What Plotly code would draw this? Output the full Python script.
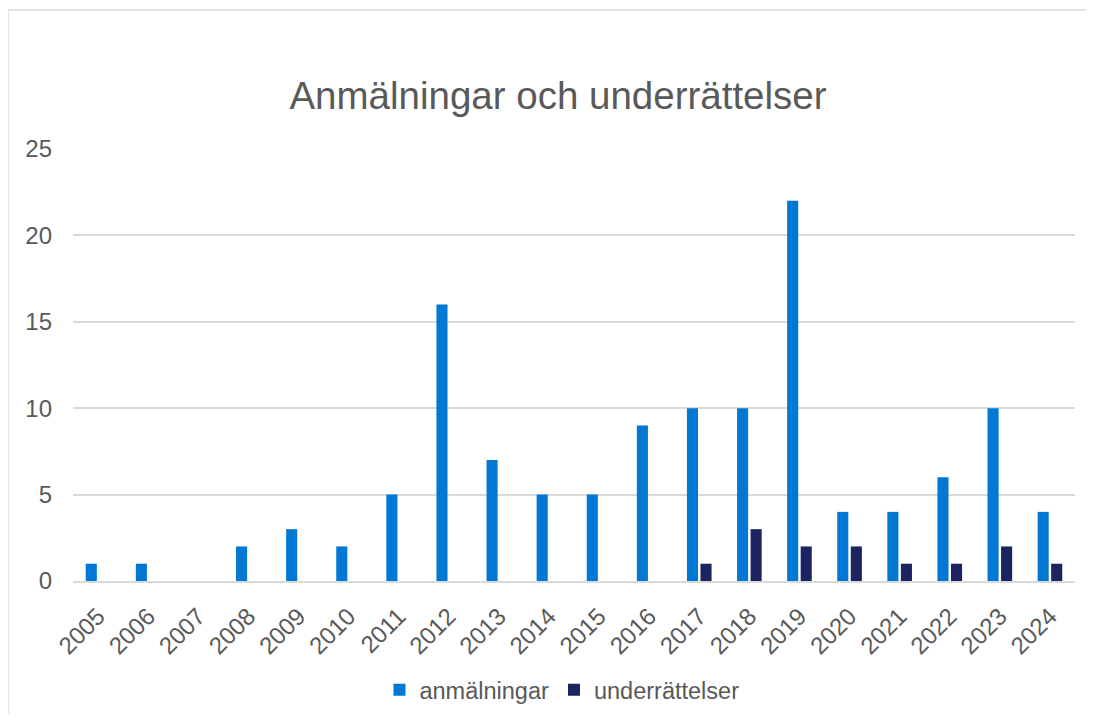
import plotly.graph_objects as go

years = [str(y) for y in range(2005, 2025)]
anmalningar = [1, 1, 0, 2, 3, 2, 5, 16, 7, 5, 5, 9, 10, 10, 22, 4, 4, 6, 10, 4]
underrattelser = [0, 0, 0, 0, 0, 0, 0, 0, 0, 0, 0, 0, 1, 3, 2, 2, 1, 1, 2, 1]
y_ticks = [0, 5, 10, 15, 20, 25]

FONT = "Liberation Sans, Arial, sans-serif"
GREY = "#595959"

W, H = 1078, 706

fig = go.Figure()
fig.add_trace(go.Bar(x=years, y=anmalningar, name="anmälningar", marker_color="#0078D4",
                     marker_line_width=0))
fig.add_trace(go.Bar(x=years, y=underrattelser, name="underrättelser", marker_color="#1B2460",
                     marker_line_width=0))

fig.update_layout(
    width=W, height=H,
    margin=dict(l=65, r=11, t=141, b=133, autoexpand=False),
    paper_bgcolor="white", plot_bgcolor="white",
    barmode="group", bargap=0.46, bargroupgap=0.18,
    font=dict(family=FONT, color=GREY, size=24),
    title=dict(text="Anmälningar och underrättelser", x=550 / W, xanchor="center",
               y=1 - 88 / H, yanchor="middle", xref="container", yref="container",
               font=dict(size=38.5, color=GREY, family=FONT)),
    legend=dict(orientation="h", x=0.488, xanchor="center", y=1 - 682 / H, yanchor="middle",
                yref="container",
                font=dict(size=23.5, color=GREY), itemwidth=30, traceorder="normal"),
    showlegend=True,
)
fig.update_xaxes(type="category", tickangle=-45, showline=True, linecolor="#d9d9d9", linewidth=1.5,
                 showgrid=False, ticks="", ticklabelstandoff=10, automargin=False,
                 tickfont=dict(size=24, color=GREY))
fig.update_yaxes(range=[0, 25], tickvals=y_ticks, showgrid=True, gridcolor="#d9d9d9", gridwidth=1.5,
                 zeroline=False, showline=False, ticks="", ticklabelstandoff=20, automargin=False,
                 tickfont=dict(size=24, color=GREY))

x_left = -65 / 1002
y_top = (141 - 2) / 432 + 1
border = dict(color="#d9d9d9", width=1.5)
fig.add_shape(type="line", xref="paper", yref="paper", x0=x_left, x1=x_left, y0=-0.6, y1=y_top,
              line=border, layer="below")
fig.add_shape(type="line", xref="paper", yref="paper", x0=x_left, x1=1.2, y0=y_top, y1=y_top,
              line=border, layer="below")

fig.write_html("out.html")
